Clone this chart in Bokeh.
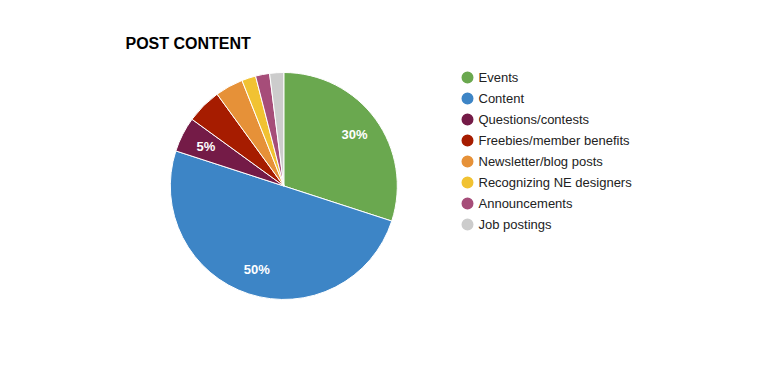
import math
from bokeh.plotting import figure
from bokeh.models import ColumnDataSource, Range1d
from bokeh.core.properties import value
from bokeh.embed import file_html
from bokeh.resources import INLINE

# ---- data ----
categories = ["Events", "Content", "Questions/contests", "Freebies/member benefits",
              "Newsletter/blog posts", "Recognizing NE designers", "Announcements", "Job postings"]
values = [30, 50, 5, 5, 4, 2, 2, 2]
colors = ["#6aa84f", "#3d85c6", "#741b47", "#a61c00", "#e69138", "#f1c232", "#a64d79", "#cccccc"]
show_label = [True, True, True, False, False, False, False, False]
title = "POST CONTENT"

W, H = 760, 371
FONT = "Liberation Sans"

p = figure(width=W, height=H, output_backend="svg", toolbar_location=None,
           x_range=Range1d(0, W), y_range=Range1d(0, H),
           x_axis_type=None, y_axis_type=None, min_border=0)
p.grid.visible = False
p.outline_line_color = None
p.background_fill_color = "white"
p.border_fill_color = "white"

# pie geometry (pixel layout)
cx, cy, R = 283.3, H - 185.5, 113.5
total = float(sum(values))
starts, ends, lx, ly, labels = [], [], [], [], []
cum = 0.0
for v, show in zip(values, show_label):
    f0 = cum / total
    f1 = (cum + v) / total
    a0 = math.pi / 2 - 2 * math.pi * f0
    a1 = math.pi / 2 - 2 * math.pi * f1
    starts.append(a1)
    ends.append(a0)
    mid = (a0 + a1) / 2
    lx.append(cx + 0.77 * R * math.cos(mid))
    ly.append(cy + 0.77 * R * math.sin(mid))
    labels.append(f"{round(100 * v / total)}%" if show else "")
    cum += v

src = ColumnDataSource(dict(start=starts, end=ends, color=colors, lx=lx, ly=ly, label=labels))
p.wedge(x=cx, y=cy, radius=R, start_angle="start", end_angle="end", direction="anticlock",
        fill_color="color", line_color="white", line_width=1, source=src)
p.text(x="lx", y="ly", text="label", source=src, text_color="white",
       text_font=value(FONT), text_font_size="13px", text_font_style="bold",
       text_align="center", text_baseline="middle")

# title
p.text(x=[125], y=[H - 43], text=[title], text_font=value(FONT), text_font_size="16px",
       text_font_style="bold", text_color="#000000", text_baseline="middle")

# legend
leg_x, leg_top, step = 467, H - 77, 21
ly2 = [leg_top - i * step for i in range(len(categories))]
lsrc = ColumnDataSource(dict(x=[leg_x] * len(categories), tx=[leg_x + 11] * len(categories),
                             y=ly2, name=categories, color=colors))
p.scatter(x="x", y="y", size=12, marker="circle", fill_color="color", line_color=None, source=lsrc)
p.text(x="tx", y="y", text="name", source=lsrc, text_font=value(FONT), text_font_size="13px",
       text_color="#222222", text_baseline="middle")

open("out.html", "w").write(file_html(p, INLINE))
